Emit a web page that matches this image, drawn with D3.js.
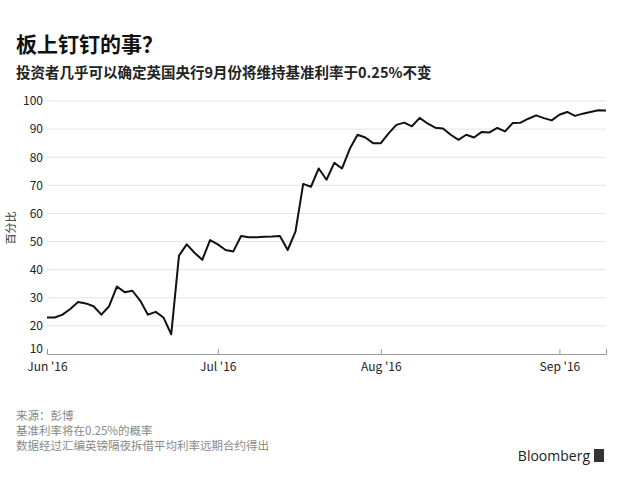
<!DOCTYPE html>
<html><head><meta charset="utf-8">
<script src="https://cdn.jsdelivr.net/npm/d3@7"></script>
<style>body{margin:0;background:#fff}svg{display:block}</style>
</head><body>
<svg id="chart" width="630" height="490"></svg>
<script>
// probability (%) that Bank Rate stays at 0.25%, one value per trading day, Jun 1 - Sep 12 2016
var probValues = [23, 23, 24, 26, 28.5, 28, 27, 24, 27, 34, 32, 32.5, 29, 24, 25, 23, 17, 45, 49, 46,
  43.5, 50.5, 49, 47, 46.5, 52, 51.5, 51.5, 51.7, 51.8, 52, 47, 53.5, 70.5, 69.5, 76, 72, 78, 76, 83,
  88, 87, 85, 85, 88.5, 91.5, 92.3, 91, 94, 92, 90.5, 90.2, 88, 86.2, 88, 87, 89, 88.8, 90.4, 89.2,
  92.2, 92.3, 93.7, 94.9, 93.9, 93.1, 95.1, 96.1, 94.7, 95.5, 96.1, 96.7, 96.6];
var monthTickIdx = [0, 22, 43, 66];
var monthTickLabels = ["Jun '16", "Jul '16", "Aug '16", "Sep '16"];
var yTicks = [10, 20, 30, 40, 50, 60, 70, 80, 90, 100];
var footLines = ["来源：彭博", "基准利率将在0.25%的概率", "数据经过汇编英镑隔夜拆借平均利率远期合约得出"];

var svg = d3.select('#chart');
var font = "'Noto Sans CJK SC', 'DejaVu Sans', sans-serif";
var plotLeft = 47, plotRight = 606, plotTop = 101, plotBottom = 354;

var x = d3.scaleLinear().domain([0, probValues.length - 1]).range([plotLeft, plotRight]);
var y = d3.scaleLinear().domain([10, 100]).range([plotBottom, plotTop]);

svg.append('text').attr('x', 16).attr('y', 52).text('板上钉钉的事？')
  .attr('font-family', font).attr('font-size', 21).attr('font-weight', 'bold').attr('fill', '#111');
svg.append('text').attr('x', 16).attr('y', 78).text('投资者几乎可以确定英国央行9月份将维持基准利率于0.25%不变')
  .attr('font-family', font).attr('font-size', 14.5).attr('font-weight', 'bold').attr('fill', '#222');

// gridlines
svg.append('g').selectAll('line').data(yTicks.slice(1)).enter().append('line')
  .attr('x1', plotLeft).attr('x2', plotRight)
  .attr('y1', function(d) { return y(d); }).attr('y2', function(d) { return y(d); })
  .attr('stroke', '#e4e4e4').attr('stroke-width', 1);

var yAxis = svg.append('g').attr('transform', 'translate(' + plotLeft + ',0)')
  .call(d3.axisLeft(y).tickValues(yTicks).tickSize(0).tickPadding(4));
yAxis.select('.domain').remove();
yAxis.selectAll('text').attr('font-family', font).attr('font-size', 12).attr('fill', '#222');
yAxis.selectAll('.tick text').filter(function(d) { return d === 10; }).attr('dy', '-0.1em');

var xAxis = svg.append('g').attr('transform', 'translate(0,' + plotBottom + ')')
  .call(d3.axisBottom(x).tickValues(monthTickIdx).tickSize(-5).tickPadding(8)
    .tickFormat(function(d, i) { return monthTickLabels[i]; }));
xAxis.select('.domain').attr('stroke', '#999');
xAxis.selectAll('.tick line').attr('stroke', '#999');
xAxis.selectAll('text').attr('font-family', font).attr('font-size', 12).attr('fill', '#222');

svg.append('text').attr('transform', 'translate(15,228) rotate(-90)')
  .attr('text-anchor', 'middle').text('百分比')
  .attr('font-family', font).attr('font-size', 11).attr('fill', '#333');

svg.append('path').datum(probValues)
  .attr('d', d3.line().x(function(d, i) { return x(i); }).y(function(d) { return y(d); }))
  .attr('fill', 'none').attr('stroke', '#111').attr('stroke-width', 2).attr('stroke-linejoin', 'round');

svg.append('g').selectAll('text').data(footLines).enter().append('text')
  .attr('x', 16).attr('y', function(d, i) { return 420 + i * 15; }).text(function(d) { return d; })
  .attr('font-family', font).attr('font-size', 11.5).attr('fill', '#888');

svg.append('text').attr('x', 590).attr('y', 461).attr('text-anchor', 'end').text('Bloomberg')
  .attr('font-family', "'Open Sans', sans-serif").attr('font-size', 14).attr('fill', '#222');
svg.append('rect').attr('x', 594).attr('y', 449).attr('width', 10).attr('height', 13).attr('fill', '#333');
</script>
</body></html>
